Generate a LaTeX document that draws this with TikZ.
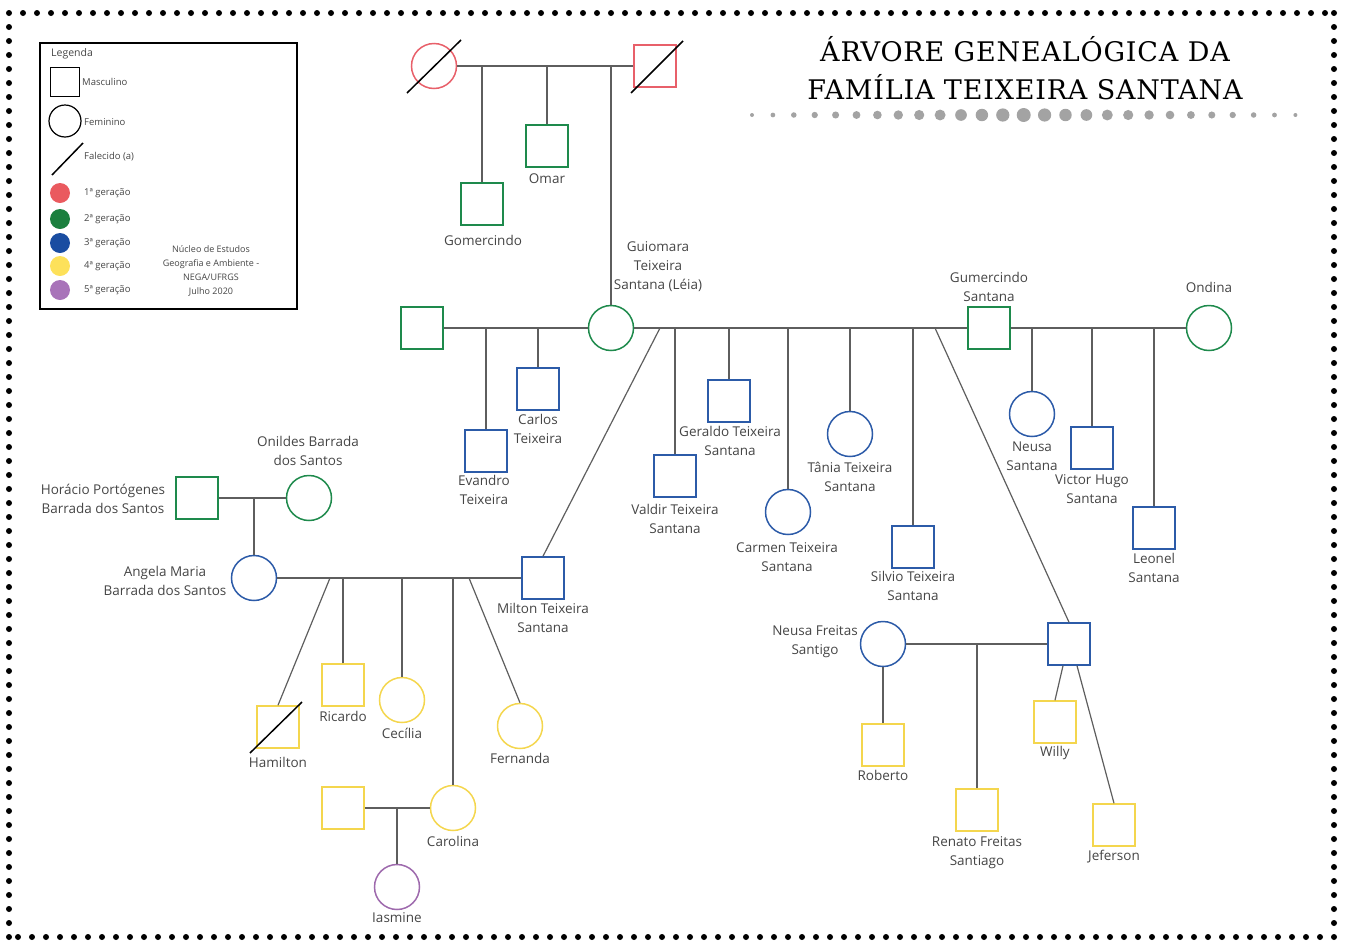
\documentclass[tikz,border=0pt]{standalone}
\usepackage{fontspec}
\setmainfont{Open Sans}
\newfontfamily\titlefont[LetterSpace=3]{DejaVu Serif}
\usepackage{xcolor}
\definecolor{genRed}{HTML}{E8606A}
\definecolor{genGreen}{HTML}{1E8A4C}
\definecolor{genBlue}{HTML}{2C5BA8}
\definecolor{genYellow}{HTML}{F4D64E}
\definecolor{genPurple}{HTML}{9E6AAD}
\definecolor{legRed}{HTML}{EA5A5F}
\definecolor{legGreen}{HTML}{1B7F3E}
\definecolor{legBlue}{HTML}{1A4DA1}
\definecolor{legYellow}{HTML}{FDE15A}
\definecolor{legPurple}{HTML}{A873B9}
\definecolor{txtGray}{HTML}{454545}
\definecolor{lineGray}{HTML}{5E5E5E}
\definecolor{dotGray}{HTML}{A3A3A3}
\usepackage{tikz}

\begin{document}
\begin{tikzpicture}[x=1pt, y=-1pt,
  male/.style={rectangle, draw, line width=1.5pt, minimum size=42pt, inner sep=0pt},
  female/.style={circle, draw, line width=1.5pt, minimum size=45pt, inner sep=0pt},
  pessoa/.style={font=\fontsize{13.5}{19}\selectfont, text=txtGray, align=center, inner sep=0pt},
  leg/.style={font=\fontsize{9.5}{13}\selectfont, text=txtGray, anchor=west, inner sep=0pt},
  link/.style={draw=lineGray, line width=1.2pt},
  dead/.style={black, line width=1.5pt},
  dotline/.style={line width=6pt, dash pattern=on 0pt off 14pt, line cap=round},
  titulo/.style={font=\titlefont\fontsize{27}{32}\selectfont, text=black, inner sep=0pt},
]
  \useasboundingbox (0,0) rectangle (1345,951);

  % Moldura pontilhada
  \draw[dotline] (9,13) -- (1334,13);
  \draw[dotline] (1334,13) -- (1334,937);
  \draw[dotline] (1334,937) -- (9,937);
  \draw[dotline] (9,937) -- (9,13);

  % Titulo
  \node[titulo] (titulo1) at (1025,49) {ÁRVORE GENEALÓGICA DA};
  \node[titulo] (titulo2) at (1025,87) {FAMÍLIA TEIXEIRA SANTANA};
  \foreach \i in {0,...,26} {
    \fill[dotGray] (752+\i*20.9,115) circle ({2+5*(1-abs(\i-13)/13)});
  }

  % Legenda
  \node[draw, line width=2pt, minimum width=257pt, minimum height=266pt, anchor=north west] (legenda) at (39,42) {};
  \node[leg, font=\fontsize{10.5}{13}\selectfont] (lLegenda) at (51,54) {Legenda};
  \node[male, draw=black, line width=1.2pt, minimum size=29pt] (lMasc) at (65,82) {};
  \node[leg] (tMasc) at (82,82) {Masculino};
  \node[female, draw=black, line width=1.2pt, minimum size=32pt] (lFem) at (65,121) {};
  \node[leg] (tFem) at (84,122) {Feminino};
  \draw[dead] (52,175) -- (83,143);
  \node[leg] (tFal) at (84,157) {Falecido (a)};
  \foreach \c/\y/\n in {legRed/193/1, legGreen/219/2, legBlue/243/3, legYellow/266/4, legPurple/290/5} {
    \fill[\c] (60,\y) circle (10);
    \node[leg] (tGen\n) at (84,\y) {\n{}ª geração};
  }
  \node[leg, anchor=center, align=center, font=\fontsize{9}{14.2}\selectfont] (nega) at (211,271)
    {Núcleo de Estudos\\Geografia e Ambiente -\\NEGA/UFRGS\\Julho 2020};

  % 1a geracao
  \node[female, draw=genRed] (matriarca) at (434,66) {};
  \node[male, draw=genRed] (patriarca) at (655,66) {};
  \draw[dead] (matriarca.center) +(-27,27) -- +(27,-26);
  \draw[dead] (patriarca.center) +(-24,27) -- +(28,-25);

  % 2a geracao
  \node[male, draw=genGreen] (gomercindo) at (482,204) {};
  \node[male, draw=genGreen] (omar) at (547,146) {};
  \node[female, draw=genGreen] (guiomara) at (611,328) {};
  \node[male, draw=genGreen] (conjuge) at (422,328) {};
  \node[male, draw=genGreen] (gumercindo) at (989,328) {};
  \node[female, draw=genGreen] (ondina) at (1209,328) {};
  \node[male, draw=genGreen] (horacio) at (197,498) {};
  \node[female, draw=genGreen] (onildes) at (309,498) {};

  \draw[link] (matriarca) -- (patriarca);
  \draw[link] (gomercindo) -- (gomercindo |- matriarca);
  \draw[link] (omar) -- (omar |- matriarca);
  \draw[link] (guiomara) -- (guiomara |- matriarca);

  % 3a geracao
  \node[male, draw=genBlue] (evandro) at (486,451) {};
  \node[male, draw=genBlue] (carlos) at (538,389) {};
  \node[male, draw=genBlue] (valdir) at (675,476) {};
  \node[male, draw=genBlue] (geraldo) at (729,401) {};
  \node[female, draw=genBlue] (carmen) at (788,512) {};
  \node[female, draw=genBlue] (tania) at (850,434) {};
  \node[male, draw=genBlue] (silvio) at (913,547) {};
  \node[female, draw=genBlue] (neusa) at (1032,414) {};
  \node[male, draw=genBlue] (victor) at (1092,448) {};
  \node[male, draw=genBlue] (leonel) at (1154,528) {};
  \node[female, draw=genBlue] (angela) at (254,578) {};
  \node[male, draw=genBlue] (milton) at (543,578) {};
  \node[female, draw=genBlue] (neusaF) at (883,644) {};
  \node[male, draw=genBlue] (filho) at (1069,644) {};
  \coordinate (dMilton) at (660,328);
  \coordinate (dFilho) at (935,328);

  \draw[link] (conjuge) -- (guiomara);
  \draw[link] (guiomara) -- (gumercindo);
  \draw[link] (gumercindo) -- (ondina);
  \draw[link] (horacio) -- (onildes);
  \draw[link] (evandro) -- (evandro |- conjuge);
  \draw[link] (carlos) -- (carlos |- conjuge);
  \draw[link] (dMilton) -- (milton.north);
  \draw[link] (valdir) -- (valdir |- guiomara);
  \draw[link] (geraldo) -- (geraldo |- guiomara);
  \draw[link] (carmen) -- (carmen |- guiomara);
  \draw[link] (tania) -- (tania |- guiomara);
  \draw[link] (silvio) -- (silvio |- guiomara);
  \draw[link] (dFilho) -- (filho.north);
  \draw[link] (neusa) -- (neusa |- ondina);
  \draw[link] (victor) -- (victor |- ondina);
  \draw[link] (leonel) -- (leonel |- ondina);
  \draw[link] (angela) -- (angela |- horacio);

  % 4a geracao
  \node[male, draw=genYellow] (hamilton) at (278,727) {};
  \node[male, draw=genYellow] (ricardo) at (343,685) {};
  \node[female, draw=genYellow] (cecilia) at (402,700) {};
  \node[female, draw=genYellow] (carolina) at (453,808) {};
  \node[female, draw=genYellow] (fernanda) at (520,726) {};
  \node[male, draw=genYellow] (genro) at (343,808) {};
  \node[male, draw=genYellow] (roberto) at (883,745) {};
  \node[male, draw=genYellow] (renato) at (977,810) {};
  \node[male, draw=genYellow] (willy) at (1055,722) {};
  \node[male, draw=genYellow] (jeferson) at (1114,825) {};
  \draw[dead] (hamilton.center) +(-28,26) -- +(24,-25);
  \coordinate (dHamilton) at (330,578);
  \coordinate (dFernanda) at (469,578);

  \draw[link] (angela) -- (milton);
  \draw[link] (dHamilton) -- (hamilton.north);
  \draw[link] (ricardo) -- (ricardo |- angela);
  \draw[link] (cecilia) -- (cecilia |- angela);
  \draw[link] (carolina) -- (carolina |- angela);
  \draw[link] (dFernanda) -- (fernanda.north);
  \draw[link] (neusaF) -- (filho);
  \draw[link] (neusaF) -- (roberto);
  \draw[link] (renato) -- (renato |- neusaF);
  \draw[link] ([xshift=-6pt]filho.south) -- (willy.north);
  \draw[link] ([xshift=8pt]filho.south) -- (jeferson.north);

  % 5a geracao
  \node[female, draw=genPurple] (iasmine) at (397,887) {};
  \draw[link] (genro) -- (carolina);
  \draw[link] (iasmine) -- (iasmine |- genro);

  % Nomes
  \node[pessoa] (tOmar) at (547,179) {Omar};
  \node[pessoa] (tGomercindo) at (483,240) {Gomercindo};
  \node[pessoa] (tGuiomara) at (658,267) {Guiomara\\Teixeira\\Santana (Léia)};
  \node[pessoa] (tEvandro) at (484,490) {Evandro\\Teixeira};
  \node[pessoa] (tCarlos) at (538,429) {Carlos\\Teixeira};
  \node[pessoa] (tGumercindo) at (989,287) {Gumercindo\\Santana};
  \node[pessoa] (tOndina) at (1209,287) {Ondina};
  \node[pessoa] (tNeusa) at (1032,456) {Neusa\\Santana};
  \node[pessoa] (tVictor) at (1092,489) {Victor Hugo\\Santana};
  \node[pessoa] (tLeonel) at (1154,568) {Leonel\\Santana};
  \node[pessoa] (tValdir) at (675,519) {Valdir Teixeira\\Santana};
  \node[pessoa] (tGeraldo) at (730,441) {Geraldo Teixeira\\Santana};
  \node[pessoa] (tCarmen) at (787,557) {Carmen Teixeira\\Santana};
  \node[pessoa] (tTania) at (850,477) {Tânia Teixeira\\Santana};
  \node[pessoa] (tSilvio) at (913,586) {Silvio Teixeira\\Santana};
  \node[pessoa] (tMilton) at (543,618) {Milton Teixeira\\Santana};
  \node[pessoa] (tOnildes) at (308,451) {Onildes Barrada\\dos Santos};
  \node[pessoa] (tHoracio) at (103,499) {Horácio Portógenes\\Barrada dos Santos};
  \node[pessoa] (tAngela) at (165,581) {Angela Maria\\Barrada dos Santos};
  \node[pessoa] (tHamilton) at (278,762) {Hamilton};
  \node[pessoa] (tRicardo) at (343,716) {Ricardo};
  \node[pessoa] (tCecilia) at (402,733) {Cecília};
  \node[pessoa] (tFernanda) at (520,758) {Fernanda};
  \node[pessoa] (tCarolina) at (453,841) {Carolina};
  \node[pessoa] (tIasmine) at (397,918) {Iasmine};
  \node[pessoa] (tNeusaF) at (815,642) {Neusa Freitas\\Santigo};
  \node[pessoa] (tRoberto) at (883,775) {Roberto};
  \node[pessoa] (tRenato) at (977,853) {Renato Freitas\\Santiago};
  \node[pessoa] (tWilly) at (1055,753) {Willy};
  \node[pessoa] (tJeferson) at (1114,857) {Jeferson};
\end{tikzpicture}
\end{document}
